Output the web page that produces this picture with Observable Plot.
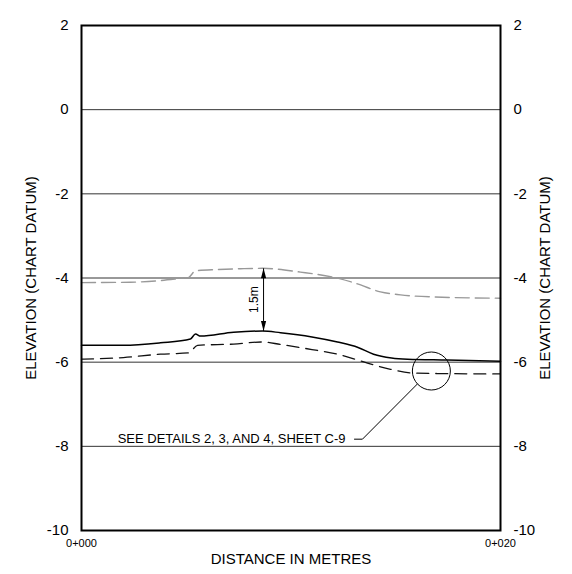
<!DOCTYPE html>
<html><head><meta charset="utf-8">
<script src="https://cdn.jsdelivr.net/npm/d3@7"></script>
<script src="https://cdn.jsdelivr.net/npm/@observablehq/plot@0.6"></script>
<style>body{margin:0;background:#fff}</style>
</head><body><div id="chart"></div>
<script>
// ---- data ----
const stations = [0, 20];
const stationLabels = ["0+000", "0+020"];
const elevTicks = [2, 0, -2, -4, -6, -8, -10];
const elevTickLabels = ["2", "0", "-2", "-4", "-6", "-8", "-10"];
const gridElev = [0, -2, -4, -6, -8];
const xTitle = "DISTANCE IN METRES";
const yTitle = "ELEVATION (CHART DATUM)";

// grey dashed profile (upper)
const upperDist = [0, 2.34, 3.77, 4.73, 5.1, 5.44, 6.5, 7.59, 8.64, 10.45, 12.36, 13.17, 14.27, 15.23, 16.8, 20];
const upperElev = [-4.11, -4.1, -4.06, -4.01, -3.99, -3.83, -3.8, -3.78, -3.77, -3.86, -4.02, -4.14, -4.33, -4.4, -4.45, -4.48];

// solid black profile
const solidDist = [0, 2.0, 3.77, 5.2, 5.44, 5.68, 7.26, 8.64, 9.5, 11, 12.22, 13.2, 13.94, 14.8, 15.56, 17.47, 20];
const solidElev = [-5.6, -5.6, -5.54, -5.45, -5.33, -5.38, -5.29, -5.26, -5.3, -5.4, -5.52, -5.65, -5.81, -5.9, -5.93, -5.95, -5.98];

// black dashed profile (lower)
const lowerDist = [0, 2.0, 3.77, 5.11, 5.54, 7.26, 8.64, 9.5, 11, 12.22, 13.65, 14.75, 15.85, 17, 20];
const lowerElev = [-5.93, -5.89, -5.81, -5.78, -5.6, -5.57, -5.52, -5.58, -5.7, -5.81, -6.02, -6.17, -6.26, -6.27, -6.28];

// 1.5 m dimension
const dimDist = [8.69];
const dimTop = [-3.77];
const dimBottom = [-5.26];
const dimLabel = ["1.5m"];

// detail callout
const detailDist = [16.7];
const detailElev = [-6.21];
const leaderDist = [16.03, 13.41, 13.03];
const leaderElev = [-6.52, -7.83, -7.83];
const noteDist = [12.6];
const noteElev = [-7.83];
const noteText = ["SEE DETAILS 2, 3, AND 4, SHEET C-9"];

// ---- build ----
const line = (xs, ys) => xs.map((x, i) => ({x, y: ys[i]}));
const dim = dimDist.map((x, i) => ({x, y1: dimTop[i], y2: dimBottom[i], label: dimLabel[i]}));
const heads = dim.flatMap(d => [{x: d.x, y: d.y1, rot: 0}, {x: d.x, y: d.y2, rot: 180}]);
const arrowHead = {draw(ctx) { ctx.moveTo(0, 0); ctx.lineTo(-2.6, 10); ctx.lineTo(2.6, 10); ctx.closePath(); }};
const elevFmt = d => elevTickLabels[elevTicks.indexOf(d)];

const chart = Plot.plot({
  width: 572, height: 574,
  marginLeft: 81, marginRight: 72, marginTop: 25, marginBottom: 44,
  style: {fontFamily: "'Liberation Sans', Arial, sans-serif", background: "white", color: "black"},
  x: {domain: [0, 20]},
  y: {domain: [-10, 2]},
  marks: [
    Plot.ruleY(gridElev, {stroke: "#333", strokeWidth: 1}),
    Plot.line(line(upperDist, upperElev), {x: "x", y: "y", stroke: "#999", strokeWidth: 1.4, strokeDasharray: "14,6", curve: "monotone-x"}),
    Plot.line(line(lowerDist, lowerElev), {x: "x", y: "y", stroke: "#111", strokeWidth: 1.3, strokeDasharray: "12,7", curve: "monotone-x"}),
    Plot.line(line(solidDist, solidElev), {x: "x", y: "y", stroke: "#000", strokeWidth: 1.5, curve: "monotone-x"}),
    Plot.link(dim, {x1: "x", x2: "x", y1: "y1", y2: "y2", stroke: "black", strokeWidth: 1}),
    Plot.dot(heads, {x: "x", y: "y", rotate: "rot", symbol: arrowHead, fill: "black", stroke: "none"}),
    Plot.text(dim, {x: "x", y: d => (d.y1 + d.y2) / 2, text: "label", rotate: -90, dx: -9, fontSize: 12}),
    Plot.dot(line(detailDist, detailElev), {x: "x", y: "y", r: 19, stroke: "black", strokeWidth: 1, fill: "none"}),
    Plot.line(line(leaderDist, leaderElev), {x: "x", y: "y", stroke: "black", strokeWidth: 1}),
    Plot.text(line(noteDist, noteElev).map((d, i) => ({...d, t: noteText[i]})), {x: "x", y: "y", text: "t", textAnchor: "end", fontSize: 13}),
    Plot.axisY({anchor: "left", ticks: elevTicks, tickFormat: elevFmt, tickSize: 0, tickPadding: 13, fontSize: 15, label: null}),
    Plot.axisY({anchor: "right", ticks: elevTicks, tickFormat: elevFmt, tickSize: 0, tickPadding: 13, fontSize: 15, label: null}),
    Plot.axisX({ticks: stations, tickFormat: d => stationLabels[stations.indexOf(d)], tickSize: 0, tickPadding: 9, fontSize: 11, label: null}),
    Plot.text([xTitle], {frameAnchor: "bottom", dy: 33, text: d => d, fontSize: 15}),
    Plot.text([yTitle], {frameAnchor: "left", dx: -50, rotate: -90, textAnchor: "middle", text: d => d, fontSize: 15}),
    Plot.text([yTitle], {frameAnchor: "right", dx: 45, rotate: -90, textAnchor: "middle", text: d => d, fontSize: 15}),
    Plot.frame({stroke: "black", strokeWidth: 2})
  ]
});
document.getElementById("chart").appendChild(chart);
</script>
</body></html>
